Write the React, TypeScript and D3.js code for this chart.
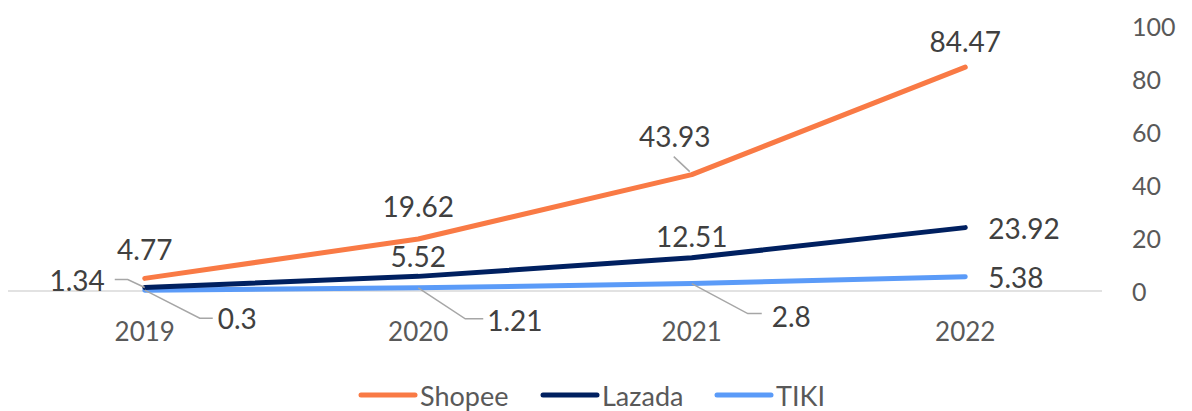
import React, { useEffect, useRef } from "react";
import * as d3 from "d3";

const years = ["2019", "2020", "2021", "2022"];
const shopee = [4.77, 19.62, 43.93, 84.47];
const lazada = [1.34, 5.52, 12.51, 23.92];
const tiki = [0.3, 1.21, 2.8, 5.38];
const yTicks = [0, 20, 40, 60, 80, 100];

const series = [
  { name: "Shopee", values: shopee, color: "#F97A45" },
  { name: "Lazada", values: lazada, color: "#002060" },
  { name: "TIKI", values: tiki, color: "#5B9BF8" },
];

// label placement relative to the point: dx, dy, anchor, optional leader
type Lab = { dx: number; dy: number; anchor: string; leader?: number[][] };
const labelPos: Lab[][] = [
  [
    { dx: 0, dy: -29, anchor: "middle" },
    { dx: 0, dy: -33, anchor: "middle" },
    { dx: -17, dy: -39, anchor: "middle", leader: [[-18, -18], [-2, -3]] },
    { dx: 0, dy: -26, anchor: "middle" },
  ],
  [
    { dx: -40, dy: -7, anchor: "end", leader: [[-30, -8], [-17, -8], [0, 0]] },
    { dx: 0, dy: -20, anchor: "middle" },
    { dx: 0, dy: -22, anchor: "middle" },
    { dx: 23, dy: 0, anchor: "start" },
  ],
  [
    { dx: 73, dy: 28, anchor: "start", leader: [[0, 0], [55, 28], [68, 28]] },
    { dx: 69, dy: 32, anchor: "start", leader: [[0, 0], [47, 31], [65, 31]] },
    { dx: 80, dy: 32, anchor: "start", leader: [[0, 0], [56, 30], [70, 30]] },
    { dx: 23, dy: 0, anchor: "start" },
  ],
];

const FONT = "Lato, 'Open Sans', sans-serif";

export default function App() {
  const ref = useRef<SVGSVGElement>(null);

  useEffect(() => {
    const svg = d3.select(ref.current);
    svg.selectAll("*").remove();

    const x = d3.scaleBand().domain(years).range([8, 1102]).padding(0);
    const y = d3.scaleLinear().domain([0, 100]).range([291, 26]);
    const cx = (d: string) => (x(d) as number) + x.bandwidth() / 2;

    // baseline
    svg
      .append("line")
      .attr("x1", 8)
      .attr("x2", 1102)
      .attr("y1", y(0))
      .attr("y2", y(0))
      .attr("stroke", "#D9D9D9")
      .attr("stroke-width", 1.5);

    // y axis labels on the right
    svg
      .append("g")
      .selectAll("text")
      .data(yTicks)
      .join("text")
      .attr("x", 1132)
      .attr("y", (d) => y(d))
      .attr("dominant-baseline", "central")
      .attr("font-family", FONT)
      .attr("font-size", 25)
      .attr("fill", "#595959")
      .text((d) => d);

    // category labels
    svg
      .append("g")
      .selectAll("text")
      .data(years)
      .join("text")
      .attr("x", (d) => cx(d))
      .attr("y", 331)
      .attr("text-anchor", "middle")
      .attr("dominant-baseline", "central")
      .attr("font-family", FONT)
      .attr("font-size", 26)
      .attr("fill", "#595959")
      .text((d) => d);

    const line = d3
      .line<number>()
      .x((_, i) => cx(years[i]))
      .y((v) => y(v))
      .curve(d3.curveLinear);

    // draw TIKI first so Shopee on top
    [...series].reverse().forEach((s) => {
      svg
        .append("path")
        .attr("d", line(s.values))
        .attr("fill", "none")
        .attr("stroke", s.color)
        .attr("stroke-width", 5)
        .attr("stroke-linecap", "round")
        .attr("stroke-linejoin", "round");
    });

    // data labels
    series.forEach((s, si) => {
      s.values.forEach((v, i) => {
        const px = cx(years[i]);
        const py = y(v);
        const lp = labelPos[si][i];
        if (lp.leader) {
          svg
            .append("polyline")
            .attr("points", lp.leader.map((p) => `${px + p[0]},${py + p[1]}`).join(" "))
            .attr("fill", "none")
            .attr("stroke", "#A6A6A6")
            .attr("stroke-width", 1.5);
        }
        svg
          .append("text")
          .attr("x", px + lp.dx)
          .attr("y", py + lp.dy)
          .attr("text-anchor", lp.anchor)
          .attr("dominant-baseline", "central")
          .attr("font-family", FONT)
          .attr("font-size", 28)
          .attr("fill", "#404040")
          .text(v);
      });
    });

    // legend
    const legX = [361, 543, 717];
    const lg = svg.append("g");
    series.forEach((s, i) => {
      lg.append("line")
        .attr("x1", legX[i])
        .attr("x2", legX[i] + 54)
        .attr("y1", 395)
        .attr("y2", 395)
        .attr("stroke", s.color)
        .attr("stroke-width", 5)
        .attr("stroke-linecap", "round");
      lg.append("text")
        .attr("x", legX[i] + 59)
        .attr("y", 395)
        .attr("dominant-baseline", "central")
        .attr("font-family", FONT)
        .attr("font-size", 27)
        .attr("fill", "#595959")
        .text(s.name);
    });
  }, []);

  return (
    <svg
      ref={ref}
      width={1192}
      height={411}
      style={{ position: "absolute", left: 0, top: 0, background: "#fff" }}
    />
  );
}
